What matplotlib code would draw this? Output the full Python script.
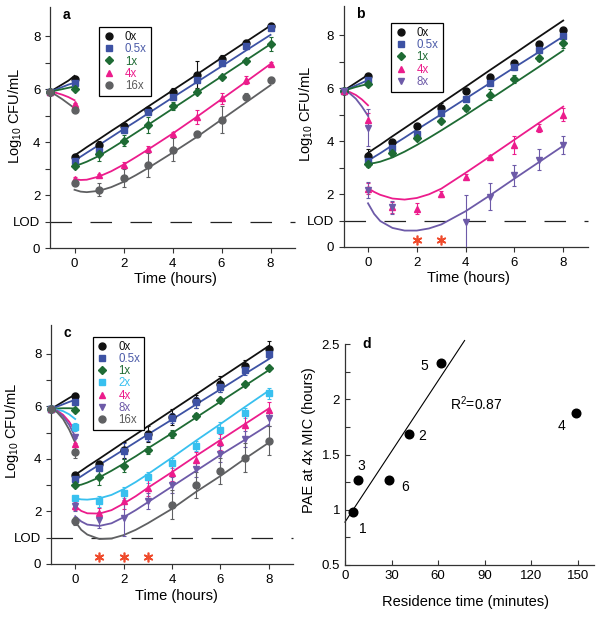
import numpy as np
import matplotlib
matplotlib.use('Agg')
import matplotlib.pyplot as plt
from matplotlib.lines import Line2D

plt.rcParams['font.family'] = ['Liberation Sans', 'DejaVu Sans']
plt.rcParams['lines.scale_dashes'] = False

nan = np.nan

# shared time axes
hours = [0, 1, 2, 3, 4, 5, 6, 7, 8]
pre_t = [-1, -0.75, -0.5, -0.25, 0]
fit_t = [0, 0.25, 0.5, 1, 1.5, 2, 2.5, 3, 4, 5, 6, 7, 8]
start_log = 5.9
lod = 1.0

colors = {'0x': '#111111', '0.5x': '#3d52a4', '1x': '#1e6b34', '2x': '#38c0ef',
          '4x': '#ec1c8c', '8x': '#6d5aa8', '16x': '#5f6062'}
text_colors = {'0x': '#111111', '0.5x': '#4a5aa8', '1x': '#1e6b34', '2x': '#38c0ef',
               '4x': '#ec1c8c', '8x': '#6d5aa8', '16x': '#5a5a5a'}
markers = {'0x': ('o', 5), '0.5x': ('s', 4.6), '1x': ('D', 3.8), '2x': ('s', 4.6),
           '4x': ('^', 5), '8x': ('v', 5), '16x': ('o', 5)}

# ---- panel a ----
a_labels = ['0x', '0.5x', '1x', '4x', '16x']
a_pre_obs = [6.38, 6.25, 6.0, 5.42, 5.21]
a_pre_err = [0.1, 0.05, 0.05, 0.05, 0.05]
a_obs = [[3.45, 3.9, 4.6, 5.2, 5.9, 6.55, 7.15, 7.75, 8.4],
         [3.3, 3.65, 4.45, 5.12, 5.72, 6.35, 6.98, 7.62, 8.3],
         [3.08, 3.55, 4.05, 4.65, 5.35, 5.9, 6.45, 7.05, 7.7],
         [2.62, 2.75, 3.15, 3.75, 4.3, 4.95, 5.65, 6.35, 6.95],
         [2.45, 2.2, 2.65, 3.12, 3.72, 4.32, 4.85, 5.72, 6.35]]
a_err = [[0.1, 0.15, 0.1, 0.1, 0.15, 0.5, 0.15, 0.12, 0.08],
         [0.1, 0.1, 0.12, 0.1, 0.1, 0.1, 0.1, 0.1, 0.08],
         [0.05, 0.25, 0.2, 0.3, 0.15, 0.1, 0.08, 0.08, 0.25],
         [0.08, 0.05, 0.1, 0.1, 0.08, 0.25, 0.2, 0.15, 0.08],
         [0.1, 0.25, 0.35, 0.45, 0.45, 0.1, 0.5, 0.12, 0.12]]
a_pre_fit = [[5.9, 6.04, 6.18, 6.32, 6.5],
             [5.9, 5.99, 6.08, 6.17, 6.24],
             [5.9, 5.95, 6.0, 6.05, 6.1],
             [5.9, 5.86, 5.79, 5.7, 5.58],
             [5.9, 5.77, 5.62, 5.45, 5.28]]
a_fit = [[3.50, 3.65, 3.81, 4.11, 4.42, 4.72, 5.03, 5.34, 5.95, 6.56, 7.18, 7.79, 8.40],
         [3.30, 3.45, 3.60, 3.89, 4.19, 4.49, 4.78, 5.08, 5.68, 6.27, 6.86, 7.46, 8.05],
         [3.10, 3.17, 3.26, 3.48, 3.76, 4.05, 4.35, 4.65, 5.26, 5.87, 6.48, 7.09, 7.70],
         [2.60, 2.57, 2.58, 2.70, 2.90, 3.15, 3.43, 3.72, 4.32, 4.96, 5.62, 6.28, 6.95],
         [2.20, 2.13, 2.11, 2.16, 2.30, 2.50, 2.75, 3.02, 3.60, 4.20, 4.85, 5.50, 6.15]]

# ---- panel b ----
b_labels = ['0x', '0.5x', '1x', '4x', '8x']
b_pre_obs = [6.45, 6.3, 6.15, 4.8, 4.5]
b_pre_err = [0.08, 0.05, 0.08, 0.25, 0.7]
b_obs = [[3.45, 3.95, 4.55, 5.25, 5.9, 6.4, 6.95, 7.68, 8.2],
         [3.25, 3.75, 4.25, 5.05, 5.6, 6.2, 6.8, 7.45, 7.98],
         [3.12, 3.55, 4.12, 4.75, 5.25, 5.75, 6.35, 7.12, 7.7],
         [2.2, 1.5, 1.45, 2.0, 2.65, 3.4, 3.85, 4.5, 5.0],
         [2.15, 1.5, nan, nan, 0.95, 1.9, 2.7, 3.3, 3.85]]
b_err = [[0.25, 0.1, 0.08, 0.2, 0.1, 0.1, 0.08, 0.1, 0.08],
         [0.15, 0.1, 0.1, 0.1, 0.1, 0.1, 0.1, 0.1, 0.1],
         [0.1, 0.1, 0.08, 0.08, 0.1, 0.2, 0.15, 0.08, 0.2],
         [0.2, 0.2, 0.2, 0.12, 0.1, 0.08, 0.35, 0.15, 0.25],
         [0.3, 0.25, nan, nan, 1.0, 0.5, 0.4, 0.4, 0.35]]
b_pre_fit = [[5.9, 6.05, 6.2, 6.35, 6.5],
             [5.9, 6.0, 6.1, 6.2, 6.3],
             [5.9, 5.97, 6.04, 6.1, 6.15],
             [5.9, 5.85, 5.74, 5.57, 5.35],
             [5.9, 5.8, 5.6, 5.3, 4.95]]
b_fit = [[3.55, 3.71, 3.86, 4.18, 4.49, 4.80, 5.11, 5.43, 6.05, 6.68, 7.30, 7.93, 8.55],
         [3.25, 3.40, 3.54, 3.84, 4.13, 4.43, 4.72, 5.01, 5.60, 6.19, 6.78, 7.36, 7.95],
         [3.15, 3.17, 3.22, 3.38, 3.60, 3.85, 4.12, 4.40, 4.98, 5.58, 6.19, 6.80, 7.42],
         [2.22, 2.08, 1.97, 1.83, 1.79, 1.85, 1.99, 2.20, 2.80, 3.42, 4.05, 4.68, 5.30],
         [1.65, 1.25, 0.98, 0.72, 0.62, 0.62, 0.70, 0.85, 1.35, 1.95, 2.58, 3.20, 3.82]]
b_star_t = [2, 3]

# ---- panel c ----
c_labels = ['0x', '0.5x', '1x', '2x', '4x', '8x', '16x']
c_pre_obs = [6.4, 6.15, 5.85, 5.2, 4.55, 4.85, 4.25]
c_pre_err = [0.1, 0.05, 0.05, 0.15, 0.05, 0.05, 0.2]
c_obs = [[3.4, 3.8, 4.35, 4.95, 5.6, 6.2, 6.85, 7.55, 8.2],
         [3.25, 3.65, 4.3, 4.88, 5.55, 6.15, 6.75, 7.4, 8.0],
         [3.0, 3.3, 3.75, 4.35, 4.95, 5.65, 6.25, 6.85, 7.45],
         [2.5, 2.38, 2.72, 3.3, 3.85, 4.5, 5.1, 5.75, 6.5],
         [2.2, 1.95, 2.4, 2.9, 3.45, 3.95, 4.65, 5.3, 5.85],
         [2.2, 1.68, 1.75, 2.4, 3.0, 3.6, 4.2, 4.75, 5.55],
         [1.65, nan, nan, nan, 2.25, 3.0, 3.55, 4.05, 4.7]]
c_err = [[0.08, 0.12, 0.3, 0.3, 0.3, 0.25, 0.3, 0.2, 0.3],
         [0.1, 0.1, 0.3, 0.2, 0.2, 0.2, 0.2, 0.2, 0.15],
         [0.08, 0.3, 0.25, 0.15, 0.15, 0.1, 0.08, 0.08, 0.08],
         [0.1, 0.2, 0.2, 0.2, 0.2, 0.2, 0.3, 0.2, 0.2],
         [0.15, 0.2, 0.3, 0.3, 0.3, 0.3, 0.3, 0.5, 0.3],
         [0.2, 0.3, 0.7, 0.3, 0.3, 0.3, 0.3, 0.3, 0.3],
         [0.15, nan, nan, nan, 0.55, 0.5, 0.5, 0.55, 0.55]]
c_pre_fit = [[5.9, 6.04, 6.18, 6.32, 6.45],
             [5.9, 5.99, 6.08, 6.17, 6.25],
             [5.9, 5.92, 5.93, 5.93, 5.92],
             [5.9, 5.88, 5.82, 5.7, 5.52],
             [5.9, 5.84, 5.68, 5.42, 5.05],
             [5.9, 5.82, 5.62, 5.3, 4.85],
             [5.9, 5.78, 5.52, 5.12, 4.62]]
c_fit = [[3.40, 3.55, 3.71, 4.01, 4.32, 4.63, 4.93, 5.24, 5.85, 6.46, 7.08, 7.69, 8.30],
         [3.20, 3.34, 3.49, 3.78, 4.06, 4.35, 4.64, 4.93, 5.50, 6.08, 6.65, 7.23, 7.80],
         [2.98, 3.02, 3.10, 3.30, 3.55, 3.82, 4.10, 4.40, 4.98, 5.58, 6.18, 6.78, 7.38],
         [2.50, 2.46, 2.45, 2.50, 2.63, 2.85, 3.12, 3.42, 4.05, 4.70, 5.33, 5.97, 6.60],
         [2.20, 2.02, 1.93, 1.92, 2.05, 2.30, 2.58, 2.90, 3.50, 4.12, 4.72, 5.32, 5.92],
         [1.82, 1.62, 1.50, 1.45, 1.55, 1.78, 2.05, 2.35, 2.95, 3.55, 4.15, 4.72, 5.30],
         [1.62, 1.30, 1.12, 0.95, 0.97, 1.10, 1.30, 1.55, 2.10, 2.75, 3.35, 4.00, 4.62]]
c_star_t = [1, 2, 3]

# ---- panel d ----
d_ids = ['1', '2', '3', '4', '5', '6']
d_residence = [5.4, 40.9, 8.6, 149, 61.5, 28.6]
d_pae = [0.977, 1.69, 1.27, 1.88, 2.33, 1.27]
d_in_fit = [True, True, True, False, True, True]
d_label_offset = [(7, -12), (10, -2), (2, 10), (-11, -10), (-12, -2), (11, -5)]


def kill_panel(ax, letter, labels, pre_obs, pre_err, obs, err, pre_fit, fit,
               leg_anchor, stars=None):
    for i, lab in enumerate(labels):
        c = colors[lab]
        m, ms = markers[lab]
        ax.plot(pre_t, pre_fit[i], color=c, lw=1.3, zorder=2, clip_on=False)
        ax.plot(fit_t, fit[i], color=c, lw=1.3, zorder=2)
        ax.plot([-1], [start_log], m, color=c, ms=ms, clip_on=False, zorder=3)
        ax.errorbar([0], [pre_obs[i]], yerr=[pre_err[i]], fmt=m, color=c, ms=ms,
                    elinewidth=0.8, capsize=1.5, capthick=0.8, zorder=3)
        ax.errorbar(hours, obs[i], yerr=err[i], fmt=m, color=c, ms=ms,
                    elinewidth=0.8, capsize=1.5, capthick=0.8, zorder=3)

    ax.plot([-1, 9], [lod, lod], color='#222222', lw=0.9, dashes=(15.5, 13.3),
            clip_on=False, zorder=1)
    if stars is not None:
        ax.plot(stars, [0.25] * len(stars), linestyle='none', marker=(6, 2, 0),
                ms=7, mew=1.2, color='#ef4a2b', clip_on=False)

    ax.set_xlim(-1, 9)
    ax.set_ylim(0, 9.1)
    ax.set_xticks([0, 2, 4, 6, 8])
    ax.set_yticks([0, 1, 2, 4, 6, 8])
    ax.set_yticklabels(['0', 'LOD', '2', '4', '6', '8'])
    ax.set_yticks([3, 5, 7], minor=True)
    ax.get_yticklabels()[1].set_fontsize(7)
    ax.tick_params(labelsize=9.5, length=3.5, width=0.8, color='#333333')
    ax.tick_params(which='minor', length=3.5, width=0.8, color='#333333')
    for s in ['top', 'right']:
        ax.spines[s].set_visible(False)
    for s in ['left', 'bottom']:
        ax.spines[s].set_linewidth(0.9)
        ax.spines[s].set_color('#333333')

    ax.set_xlabel('Time (hours)', fontsize=10.5)
    ax.set_ylabel('Log$\\mathregular{_{10}}$ CFU/mL', fontsize=10.5)
    ax.text(0.05, 0.965, letter, transform=ax.transAxes, fontsize=10,
            fontweight='bold', va='center', ha='left')

    handles = [Line2D([], [], linestyle='none', marker=markers[l][0], ms=markers[l][1],
                      color=colors[l]) for l in labels]
    leg = ax.legend(handles, labels, loc='upper left', bbox_to_anchor=leg_anchor,
                    fontsize=8.3, frameon=True, fancybox=False, edgecolor='black',
                    framealpha=1, handlelength=1.0, handletextpad=0.9,
                    labelspacing=0.02, borderpad=0.35, borderaxespad=0)
    leg.get_frame().set_linewidth(0.9)
    for t, l in zip(leg.get_texts(), labels):
        t.set_color(text_colors[l])


fig = plt.figure(figsize=(6.02, 6.17), dpi=100)

ax_a = fig.add_axes([0.0831, 0.598, 0.407, 0.3906])
ax_b = fig.add_axes([0.5708, 0.5997, 0.4053, 0.3906])
ax_c = fig.add_axes([0.0847, 0.0859, 0.402, 0.3874])
ax_d = fig.add_axes([0.573, 0.0843, 0.413, 0.358])

kill_panel(ax_a, 'a', a_labels, a_pre_obs, a_pre_err, a_obs, a_err, a_pre_fit, a_fit,
           (0.2, 0.917))
kill_panel(ax_b, 'b', b_labels, b_pre_obs, b_pre_err, b_obs, b_err, b_pre_fit, b_fit,
           (0.193, 0.93), stars=b_star_t)
kill_panel(ax_c, 'c', c_labels, c_pre_obs, c_pre_err, c_obs, c_err, c_pre_fit, c_fit,
           (0.172, 0.951), stars=c_star_t)

ax_a.yaxis.set_label_coords(-0.105, 0.55)
ax_a.xaxis.set_label_coords(0.51, -0.1)
ax_b.yaxis.set_label_coords(-0.118, 0.552)
ax_b.xaxis.set_label_coords(0.51, -0.1)
ax_c.yaxis.set_label_coords(-0.122, 0.556)
ax_c.xaxis.set_label_coords(0.52, -0.105)

# ---- panel d drawing ----
rx = np.array(d_residence)
py = np.array(d_pae)
mask = np.array(d_in_fit)
slope, intercept = np.polyfit(rx[mask], py[mask], 1)
line_x = np.array([0, 77])
ax_d.plot(line_x, slope * line_x + intercept, color='black', lw=0.8, clip_on=False)
ax_d.plot(rx, py, 'o', color='black', ms=6.2, clip_on=False)
for lab, x, y, off in zip(d_ids, rx, py, d_label_offset):
    ax_d.annotate(lab, (x, y), xytext=off, textcoords='offset points',
                  ha='center', va='center', fontsize=10)
ax_d.text(67.5, 1.963, 'R$\\mathregular{^2}$=0.87', fontsize=10, va='center')
ax_d.text(0.087, 1.0, 'd', transform=ax_d.transAxes, fontsize=10,
          fontweight='bold', va='center', ha='center')

ax_d.set_xlim(0, 160)
ax_d.set_ylim(0.5, 2.5)
ax_d.set_xticks([0, 30, 60, 90, 120, 150])
ax_d.set_yticks([0.5, 1, 1.5, 2, 2.5])
ax_d.set_yticklabels(['0.5', '1', '1.5', '2', '2.5'])
ax_d.set_yticks([0.75, 1.25, 1.75, 2.25], minor=True)
ax_d.tick_params(which='both', direction='in', labelsize=9.5, length=3.5, width=0.8,
                 color='#333333')
for s in ['top', 'right']:
    ax_d.spines[s].set_visible(False)
for s in ['left', 'bottom']:
    ax_d.spines[s].set_linewidth(0.9)
    ax_d.spines[s].set_color('#333333')
ax_d.set_xlabel('Residence time (minutes)', fontsize=10.5)
ax_d.set_ylabel('PAE at 4x MIC (hours)', fontsize=10.5)
ax_d.xaxis.set_label_coords(0.483, -0.135)
ax_d.yaxis.set_label_coords(-0.118, 0.566)

fig.savefig('out.png', dpi=100)
